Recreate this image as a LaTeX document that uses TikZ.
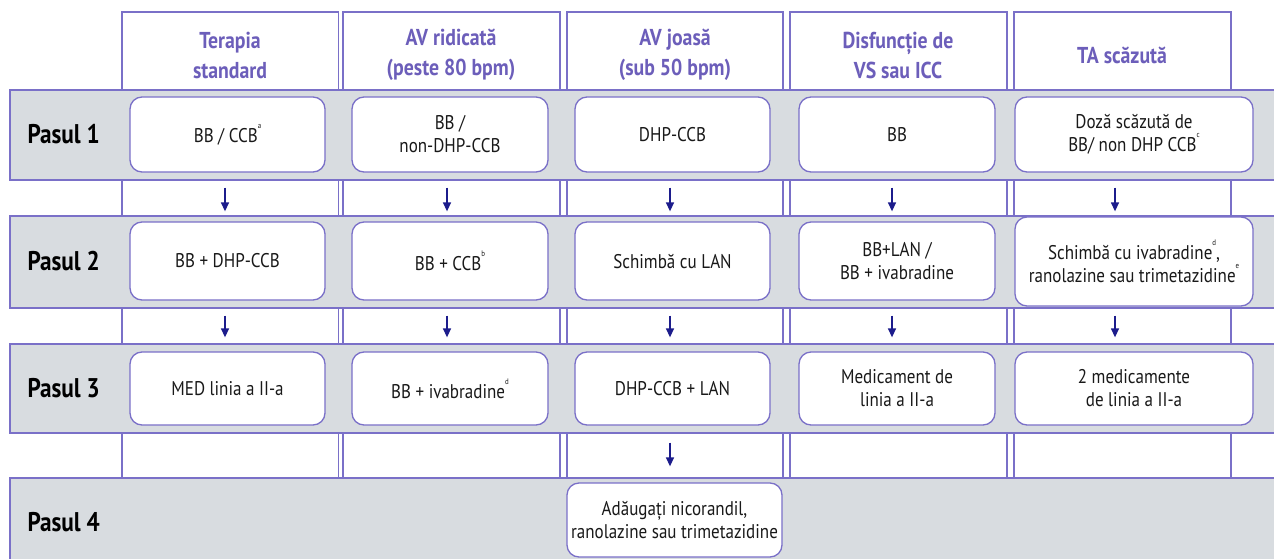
\documentclass[tikz,border=0pt]{standalone}
\usepackage{fontspec}
\setmainfont{PT Sans}[FakeStretch=0.86]
\usetikzlibrary{arrows.meta}
\definecolor{pur}{RGB}{122,112,200}
\definecolor{hdrc}{RGB}{108,94,186}
\definecolor{bandgray}{RGB}{216,220,224}
\definecolor{navy}{RGB}{28,28,140}
\definecolor{txt}{RGB}{25,25,25}
\newcommand{\sps}[1]{\raisebox{0.7em}{\fontsize{8}{8}\selectfont #1}}
\begin{document}
\begin{tikzpicture}[x=1pt,y=-1pt,
  colbox/.style={draw=pur,line width=1.3pt,fill=white},
  band/.style={draw=pur,line width=1.3pt,fill=bandgray},
  box/.style={draw=pur,line width=1.3pt,fill=white,rounded corners=12pt,align=center,
    font=\fontsize{19.8}{23}\selectfont,text=txt,inner sep=0pt,minimum height=75pt},
  hdr/.style={font=\bfseries\fontsize{23}{30}\selectfont,text=hdrc,align=center},
  pas/.style={font=\bfseries\fontsize{27}{27}\selectfont,text=black,anchor=west},
  arr/.style={draw=navy,line width=1.4pt,-{Triangle[width=8pt,length=9pt]}}]
\useasboundingbox (0,0) rectangle (1274,559);
% columns
\foreach \l/\r in {122/338.5,343/560,567/783,790/1007,1014/1231}{
  \draw[colbox] (\l,12) rectangle (\r,478);
}
% bands
\draw[band] (1290,90) -- (10,90) -- (10,180) -- (1290,180);
\draw[band] (1290,216) -- (10,216) -- (10,308) -- (1290,308);
\draw[band] (1290,344) -- (10,344) -- (10,433) -- (1290,433);
\draw[band] (1290,478) -- (10,478) -- (10,570) -- (1290,570);
% headers
\node[hdr] (h1) at (230,55) {Terapia\\standard};
\node[hdr] (h2) at (451,55) {AV ridicată\\(peste 80 bpm)};
\node[hdr] (h3) at (675,55) {AV joasă\\(sub 50 bpm)};
\node[hdr] (h4) at (898,55) {Disfuncție de\\VS sau ICC};
\node[hdr] (h5) at (1122,55) {TA scăzută};
% step labels
\node[pas] (p1) at (24,134) {Pasul 1};
\node[pas] (p2) at (24,261) {Pasul 2};
\node[pas] (p3) at (24,388) {Pasul 3};
\node[pas] (p4) at (24,522) {Pasul 4};
% row 1
\node[box,minimum width=195pt] (b11) at (227.5,134.5) {BB / CCB\sps{a}};
\node[box,minimum width=196pt] (b12) at (450,134.5) {BB /\\non-DHP-CCB};
\node[box,minimum width=195pt] (b13) at (672.5,134.5) {DHP-CCB};
\node[box,minimum width=196pt] (b14) at (897,134.5) {BB};
\node[box,minimum width=238pt] (b15) at (1134,134.5) {Doză scăzută de\\BB/ non DHP CCB\sps{c}};
% row 2
\node[box,minimum width=195pt,minimum height=78pt] (b21) at (227.5,261) {BB + DHP-CCB};
\node[box,minimum width=196pt,minimum height=78pt] (b22) at (450,261) {BB + CCB\sps{b}};
\node[box,minimum width=195pt,minimum height=78pt] (b23) at (672.5,261) {Schimbă cu LAN};
\node[box,minimum width=196pt,minimum height=78pt] (b24) at (897,261) {BB+LAN /\\BB + ivabradine};
\node[box,minimum width=238pt,minimum height=89pt] (b25) at (1134,261.5) {Schimbă cu ivabradine\sps{d},\\ranolazine sau trimetazidine\sps{e}};
% row 3
\node[box,minimum width=195pt,minimum height=73pt] (b31) at (227.5,388.5) {MED linia a II-a};
\node[box,minimum width=196pt,minimum height=73pt] (b32) at (450,388.5) {BB + ivabradine\sps{d}};
\node[box,minimum width=195pt,minimum height=73pt] (b33) at (672.5,388.5) {DHP-CCB + LAN};
\node[box,minimum width=196pt,minimum height=73pt] (b34) at (897,388.5) {Medicament de\\linia a II-a};
\node[box,minimum width=238pt,minimum height=73pt] (b35) at (1134,388.5) {2 medicamente\\de linia a II-a};
% row 4
\node[box,minimum width=215pt,minimum height=74pt] (b43) at (674.5,520) {Adăugați nicorandil,\\ranolazine sau trimetazidine};
% arrow columns
\coordinate (a1) at (225,0);
\coordinate (a2) at (447,0);
\coordinate (a3) at (670,0);
\coordinate (a4) at (892,0);
\coordinate (a5) at (1115,0);
% arrows gap 1
\foreach \i in {1,2,3,4}{
  \draw[arr,shorten <=15pt,shorten >=10pt] (b1\i.south -| a\i) -- (b2\i.north -| a\i);
}
\draw[arr,shorten <=15pt,shorten >=5pt] (b15.south -| a5) -- (b25.north -| a5);
% arrows gap 2
\foreach \i in {1,2,3,4}{
  \draw[arr,shorten <=15pt,shorten >=14pt] (b2\i.south -| a\i) -- (b3\i.north -| a\i);
}
\draw[arr,shorten <=9pt,shorten >=14pt] (b25.south -| a5) -- (b35.north -| a5);
% arrow gap 3
\draw[arr,shorten <=17pt,shorten >=16pt] (b33.south -| a3) -- (b43.north -| a3);
\end{tikzpicture}
\end{document}
